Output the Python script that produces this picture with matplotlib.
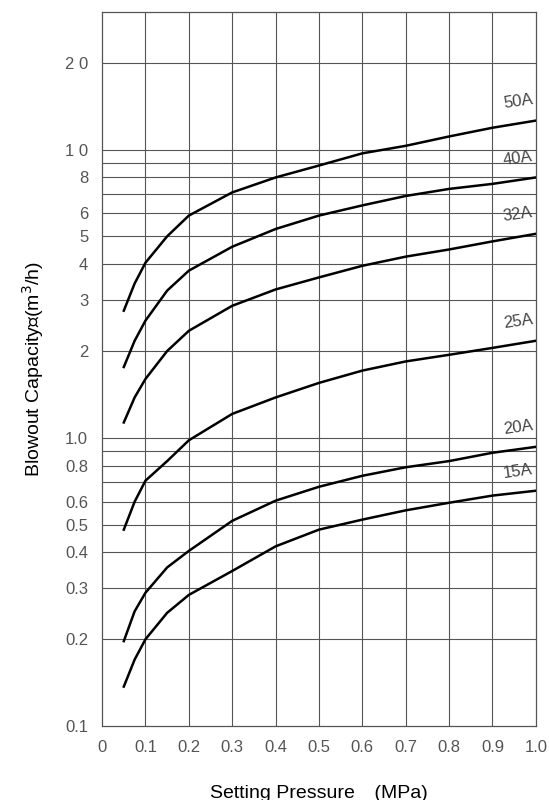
import matplotlib
matplotlib.use("Agg")
import matplotlib.pyplot as plt

plt.rcParams['font.family'] = ['Liberation Sans', 'Noto Sans CJK JP', 'DejaVu Sans']

pressure = [0.05, 0.075, 0.1, 0.15, 0.2, 0.3, 0.4, 0.5, 0.6, 0.7, 0.8, 0.9, 1.0]
cap_50a = [2.76, 3.43, 4.05, 5.0, 5.9, 7.1, 8.0, 8.8, 9.7, 10.3, 11.1, 11.9, 12.6]
cap_40a = [1.76, 2.17, 2.55, 3.24, 3.8, 4.6, 5.3, 5.9, 6.4, 6.9, 7.3, 7.6, 8.0]
cap_32a = [1.13, 1.38, 1.6, 2.0, 2.35, 2.87, 3.27, 3.6, 3.95, 4.25, 4.5, 4.8, 5.1]
cap_25a = [0.48, 0.6, 0.71, 0.83, 0.98, 1.21, 1.38, 1.55, 1.71, 1.84, 1.94, 2.05, 2.17]
cap_20a = [0.197, 0.25, 0.29, 0.355, 0.405, 0.515, 0.605, 0.676, 0.738, 0.79, 0.83, 0.887, 0.93]
cap_15a = [0.137, 0.17, 0.2, 0.247, 0.285, 0.345, 0.42, 0.48, 0.52, 0.56, 0.595, 0.63, 0.655]
names = ["50A", "40A", "32A", "25A", "20A", "15A"]
series = [cap_50a, cap_40a, cap_32a, cap_25a, cap_20a, cap_15a]

grid_y = [0.2, 0.3, 0.4, 0.5, 0.6, 0.7, 0.8, 0.9, 1, 2, 3, 4, 5, 6, 7, 8, 9, 10, 20]
tick_y = [0.1, 0.2, 0.3, 0.4, 0.5, 0.6, 0.8, 1, 2, 3, 4, 5, 6, 8, 10, 20]
tick_y_labels = ["0.1", "0.2", "0.3", "0.4", "0.5", "0.6", "0.8", "1.0",
                 "2", "3", "4", "5", "6", "8", "1 0", "2 0"]
tick_x = [0, 0.1, 0.2, 0.3, 0.4, 0.5, 0.6, 0.7, 0.8, 0.9, 1.0]
tick_x_labels = ["0", "0.1", "0.2", "0.3", "0.4", "0.5", "0.6", "0.7", "0.8", "0.9", "1.0"]

fig = plt.figure(figsize=(5.49, 8), dpi=100)
ax = fig.add_axes([0.186, 0.0925, 0.79, 0.8925])
ax.set_yscale("log")
ax.set_xlim(0, 1.0)
ax.set_ylim(0.1, 30)

gc = "#555555"
for g in grid_y:
    ax.axhline(g, color=gc, lw=0.8, zorder=1)
for g in tick_x[1:-1]:
    ax.axvline(g, color=gc, lw=0.8, zorder=1)
for s in ax.spines.values():
    s.set_color(gc)
    s.set_linewidth(0.9)

for name, vals in zip(names, series):
    ax.plot(pressure, vals, color="black", lw=1.8, zorder=3)
    ax.text(0.995, vals[-1] * 1.08, name, ha="right", va="bottom",
            fontsize=12, color="#444444", rotation=8)

ax.minorticks_off()
ax.set_yticks(tick_y)
ax.set_yticklabels(tick_y_labels)
ax.set_xticks(tick_x)
ax.set_xticklabels(tick_x_labels)
ax.tick_params(length=0, labelsize=12, labelcolor="#555555", pad=10)

ax.set_xlabel("Setting Pressure\u3000(MPa)", fontsize=14, labelpad=22)
ax.set_ylabel("Blowout Capacity\u3000(m$^3$/h)", fontsize=14, labelpad=14)

fig.savefig("out.png", dpi=100)
